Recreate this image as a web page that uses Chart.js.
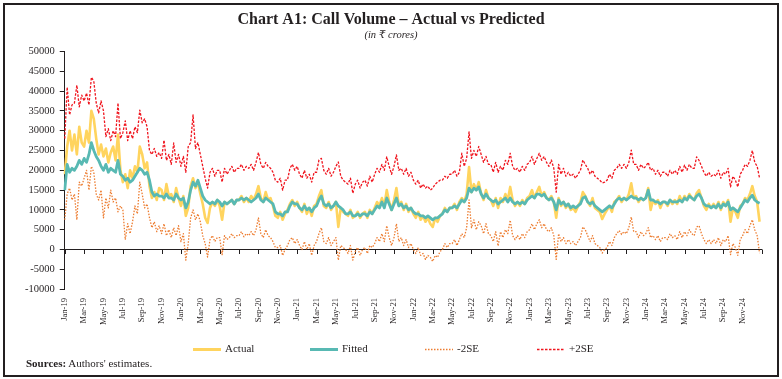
<!DOCTYPE html>
<html><head><meta charset="utf-8">
<script src="https://cdn.jsdelivr.net/npm/chart.js@4.4.1/dist/chart.umd.min.js"></script>
<style>
html,body{margin:0;padding:0;background:#fff;}
#wrap{position:relative;width:782px;height:379px;overflow:hidden;}
canvas{position:absolute;left:0;top:0;}
#frame{position:absolute;left:3px;top:3px;width:772px;height:370px;border:2px solid #231f20;pointer-events:none;}
#src{position:absolute;left:26px;top:357px;font:11px "Liberation Serif","DejaVu Serif",serif;color:#231f20;white-space:nowrap;}
</style></head><body>
<div id="wrap"><canvas id="c" width="782" height="379"></canvas><div id="frame"></div><div id="src"><b>Sources:</b> Authors' estimates.</div></div>
<script>
const months = [
 "Jan-19","Feb-19","Mar-19","Apr-19","May-19","Jun-19","Jul-19","Aug-19","Sep-19","Oct-19","Nov-19","Dec-19",
 "Jan-20","Feb-20","Mar-20","Apr-20","May-20","Jun-20","Jul-20","Aug-20","Sep-20","Oct-20","Nov-20","Dec-20",
 "Jan-21","Feb-21","Mar-21","Apr-21","May-21","Jun-21","Jul-21","Aug-21","Sep-21","Oct-21","Nov-21","Dec-21",
 "Jan-22","Feb-22","Mar-22","Apr-22","May-22","Jun-22","Jul-22","Aug-22","Sep-22","Oct-22","Nov-22","Dec-22",
 "Jan-23","Feb-23","Mar-23","Apr-23","May-23","Jun-23","Jul-23","Aug-23","Sep-23","Oct-23","Nov-23","Dec-23",
 "Jan-24","Feb-24","Mar-24","Apr-24","May-24","Jun-24","Jul-24","Aug-24","Sep-24","Oct-24","Nov-24","Dec-24"
];
const weeks = ["W1","W2","W3","W4"];
const seriesNames = ["Actual","Fitted","-2SE","+2SE"];

const actual = [
 19000,26000,30000,25000, 29000,24000,31000,27000, 26000,30000,27000,35000, 33000,28000,24000,26500, 23500,25500,22000,24500, 26000,22500,29000,20000,
 17000,19000,15500,20000, 18000,21000,19500,26000, 24000,20500,22000,16000, 13000,14500,12500,15500, 15000,12500,16500,13500, 14000,12000,15500,13000,
 11000,13500,8500,10500, 16000,18000,15500,17000, 14000,11500,8000,6700, 10500,12000,11000,12500, 11000,7500,12000,11500, 12000,12500,11500,12500,
 12500,13500,12000,13000, 12000,13500,12500,14000, 16000,13000,12000,14500, 12500,13000,11000,8500, 8000,9500,7500,9000, 10000,11500,12500,11000,
 12000,10500,9500,11500, 9000,10500,8500,11000, 11500,13500,15000,11000, 10500,12000,10000,11000, 12000,5700,10500,9500, 9000,8500,10000,8000,
 8500,9500,8000,9000, 9500,8000,10000,9000, 10500,12000,11000,13000, 11000,15000,12000,10000, 12500,15500,11000,12000, 10000,11500,9500,10500,
 9000,8000,9500,7500, 8500,7000,8000,6500, 5700,8000,7000,8500, 9000,10500,9500,10500, 10500,11500,10000,12000, 13000,12000,14000,20800,
 14500,16500,15000,17000, 14000,12500,15000,13000, 12500,11000,13000,10500, 13000,12000,14000,12500, 15800,12500,11000,12000, 11000,12500,11500,13000,
 13500,15000,13000,14500, 15800,13500,14500,13000, 12500,13500,12000,8000, 13000,11000,12000,10500, 11500,10000,10500,9500, 11000,12000,14500,13500,
 12000,11000,13000,10500, 10000,9500,7700,9000, 10000,11000,9500,12000, 12500,13500,12000,13000, 12500,14000,16700,13000, 13500,12000,13000,12500,
 13000,15500,10000,12500, 11500,12500,10500,12000, 12000,11000,12500,11500, 12500,11500,13500,12000, 13500,12500,14000,13000, 12500,14200,15000,13000,
 11000,10000,11500,10500, 11500,10500,12000,10000, 12000,11000,12500,7000, 10500,9500,8000,11000, 11500,13000,12500,14000, 16000,13500,12000,7000
];
const fitted = [
 15000,21500,19500,20500, 20000,21000,22500,21500, 23000,22000,24000,27000, 25000,23500,22500,21000, 20000,21500,19500,20500, 20000,19500,22500,19000,
 18500,17500,18000,17000, 17500,18500,19500,20500, 20000,19000,19500,17500, 14500,13500,14000,13500, 13500,13000,14000,13000, 13000,12500,14000,13000,
 12500,13000,10500,12000, 15000,17000,16000,17500, 15500,13500,12500,12000, 11500,12000,11500,12500, 12000,11000,12000,11500, 12000,12500,11500,12500,
 12500,13000,12500,13000, 12500,12000,12500,13000, 14000,12500,12000,13000, 12500,12000,11500,9500, 9000,9000,8500,9500, 9500,11000,12000,11500,
 11500,10500,10000,11000, 10000,10500,9500,10500, 11000,12500,13500,11500, 11000,11500,10500,11000, 12000,11000,10500,10000, 9000,9000,9500,8500,
 8500,9000,8500,9000, 9000,8500,9500,9000, 10000,11000,10500,12000, 10500,13000,11500,10000, 11500,13000,11000,11500, 10500,11000,10000,10500,
 9500,9000,9000,8500, 8500,8000,8500,8000, 7500,8000,8000,8500, 9000,10000,9500,10500, 10500,11000,10500,11500, 12500,12000,13000,15500,
 14500,15500,15000,15800, 14000,13000,14000,13000, 12500,12000,12500,11500, 12000,12500,13000,12000, 13000,12000,11500,12000, 11500,12000,11500,12500,
 13000,13500,13000,14000, 14000,13500,14000,13000, 12500,13000,12000,10000, 12500,11500,12000,11000, 11500,10500,11000,10500, 11000,11500,13000,13300,
 12000,11500,12000,11000, 10500,10000,9500,10000, 10500,11000,10500,11500, 12500,13000,12500,13000, 12500,13000,13500,13000, 13000,12500,13000,12500,
 13000,15000,12500,12500, 12000,12000,11500,12000, 12000,11500,12500,12000, 12000,12000,12500,12000, 13000,12500,13500,13000, 12500,13500,14000,13000,
 11500,11000,11000,10500, 11000,10500,11500,10500, 11500,11000,12000,10000, 10500,10000,9500,10500, 11500,12500,12000,13000, 13700,12500,12000,11700
];
const lower = [
 7500,14000,15500,12500, 14000,7500,17000,16000, 18000,20000,15000,21000, 19500,14000,12500,15000, 8000,13000,10500,15000, 12000,13000,9500,11000,
 10000,2500,6500,4000, 7000,11000,9000,17000, 14000,10500,11500,8000, 5500,7000,4500,6000, 4000,6500,3500,5000, 3000,5500,3500,6000,
 2000,4000,-2700,1500, 8000,10000,7500,9000, 7000,3500,1500,-1900, 2500,3500,2000,3000, 3000,-1300,3500,2500, 3000,4000,3000,3500,
 3500,4500,3200,4000, 3500,4500,3500,5000, 8000,4000,3000,5000, 3500,3000,2000,500, 500,1000,-1500,0, 1000,2500,3000,1500,
 2500,1000,0,2000, 0,1500,-1500,1000, 2000,4000,5500,2000, 1500,3000,1000,2000, 3000,-2700,1000,500, 0,-1000,1000,-2700,
 -500,500,-1500,0, 500,-1000,1000,500, 1500,3000,2000,4000, 2000,6000,3000,1000, 3000,6500,2000,3000, 1000,2500,500,1500,
 0,-1000,500,-1500, -1000,-2500,-1500,-2000, -3000,-1500,-2000,-500, 0,1500,500,1500, 1500,2500,1000,2500, 4000,3000,5500,12500,
 5500,7500,5000,7000, 6000,4000,6500,4000, 3500,2000,4500,900, 4500,3000,5000,4000, 7400,3500,2500,3500, 2500,4000,3000,4500,
 5000,6500,5000,6500, 7500,5500,6500,5000, 4500,5500,3500,-2500, 4000,2000,3000,1500, 2500,1500,2000,1000, 2000,3000,5700,5000,
 3500,2000,3500,1500, 1000,500,-900,0, 500,2000,1000,3000, 4000,4800,3800,4500, 4000,5500,8200,4500, 4500,3000,4500,3500,
 4000,5500,3000,3500, 2500,3500,2000,3000, 3000,2500,4000,3000, 3500,2500,4500,3000, 4500,3500,5000,4000, 3500,5700,6000,4000,
 2500,1500,2500,1500, 2500,1500,3000,1000, 2500,2000,3500,-1300, 1500,500,-1500,2500, 3500,5000,4000,6000, 7500,5000,3500,-900
];
const upper = [
 28000,41000,34000,36500, 37000,41500,36000,39000, 37500,39500,36500,43500, 42500,37000,34500,37500, 35000,28500,30500,27500, 30000,28500,37000,28000,
 29500,32500,27500,30000, 28000,31000,29500,35200, 32000,33000,31000,25000, 24000,25500,23500,24500, 23000,27600,22500,24000, 21500,26900,22000,24000,
 21000,23500,19500,26000, 27000,34000,25500,27000, 24000,21000,18000,15500, 19500,20500,18500,20000, 20000,17000,20500,19000, 20000,21000,19500,20500,
 20500,21500,20000,21000, 20500,21500,20000,22000, 24500,21500,20500,22000, 21000,20500,19500,17500, 17000,18000,15000,17500, 17500,20500,21500,20000,
 21000,19000,18000,20000, 18000,19000,17000,19500, 19500,22600,23000,20000, 19000,20500,18500,19500, 21000,22100,18500,17500, 17000,16500,18000,14200,
 16500,17500,15500,17000, 17500,16000,18500,17000, 19000,20500,19500,21500, 20000,23400,21000,19000, 21000,23900,20000,20500, 19000,20500,18500,19500,
 17500,16500,17500,15500, 16500,15500,16000,15000, 15500,16500,17000,17500, 17500,18500,18000,19000, 19000,20000,18500,19500, 24300,21000,23000,29700,
 23000,25000,23500,26000, 24000,22000,23500,21500, 21500,19500,22000,19500, 21000,20000,22500,21500, 24300,21000,20000,20500, 19500,21000,20000,21500,
 22000,23500,21500,23000, 24300,22500,23500,22000, 21000,22600,20500,14500, 21500,19000,20500,18500, 19500,18500,19000,18000, 19000,20000,22600,21500,
 20500,19000,20000,18500, 18000,17500,16800,17000, 17500,19000,18000,20000, 20500,21500,20500,21500, 20500,22000,25100,21500, 21500,20000,21500,20500,
 21000,22000,20000,20500, 19000,20000,18500,19500, 19500,18500,20000,19000, 20000,19000,21000,19500, 21300,20000,21500,20500, 20500,23400,22500,21000,
 19500,18500,19500,18500, 19000,18500,20000,18000, 19500,19000,20500,15800, 18500,17500,15800,19000, 20000,21500,21000,22500, 25000,22000,21000,18000
];

const categories = months.flatMap(m => weeks.map(w => m + " " + w)).concat([""]);
const tickStep = weeks.length * 2;
const FONT = '"Liberation Serif", "DejaVu Serif", serif';
const INK = '#231f20';

const zeroTicks = {
  id: 'zeroTicks',
  beforeDatasetsDraw(chart) {
    const xs = chart.scales.x, ys = chart.scales.y, ctx = chart.ctx;
    const y0 = Math.round(ys.getPixelForValue(0)) + 0.5;
    ctx.save();
    ctx.strokeStyle = INK; ctx.lineWidth = 1;
    ctx.beginPath();
    xs.ticks.forEach(t => {
      const px = Math.round(xs.getPixelForValue(t.value)) + 0.5;
      ctx.moveTo(px, y0); ctx.lineTo(px, y0 + 4.5);
    });
    ctx.stroke();
    ctx.restore();
  }
};

const legendStart = [193, 310, 425, 537];
const customLegend = {
  id: 'customLegend',
  afterDraw(chart) {
    const ctx = chart.ctx, y = 349.5;
    chart.data.datasets.forEach((ds, i) => {
      const x = legendStart[i];
      ctx.save();
      ctx.strokeStyle = ds.borderColor;
      ctx.lineWidth = ds.borderWidth > 2 ? 3 : 1.3;
      ctx.setLineDash(ds.borderDash || []);
      ctx.beginPath(); ctx.moveTo(x, y); ctx.lineTo(x + 28, y); ctx.stroke();
      ctx.setLineDash([]);
      ctx.fillStyle = INK;
      ctx.font = '11px ' + FONT;
      ctx.textBaseline = 'middle';
      ctx.fillText(ds.label, x + 32, y);
      ctx.restore();
    });
  }
};

new Chart(document.getElementById('c'), {
  type: 'line',
  data: {
    labels: categories,
    datasets: [
      { label: seriesNames[0], data: actual, borderColor: '#FFD45E', borderWidth: 2.6, order: 3 },
      { label: seriesNames[1], data: fitted, borderColor: '#58B9B3', borderWidth: 2.8, order: 2 },
      { label: seriesNames[2], data: lower, borderColor: '#ED7D31', borderWidth: 1.3, borderDash: [1.5, 1.5], order: 1 },
      { label: seriesNames[3], data: upper, borderColor: '#F0151E', borderWidth: 1.3, borderDash: [2.5, 1.5], order: 0 }
    ]
  },
  options: {
    responsive: false,
    animation: false,
    devicePixelRatio: 1,
    elements: { point: { radius: 0, hoverRadius: 0 }, line: { tension: 0, borderJoinStyle: 'round' } },
    layout: { padding: { left: 20, right: 20, top: 0, bottom: 45 } },
    plugins: {
      legend: { display: false },
      tooltip: { enabled: false },
      title: { display: true, text: 'Chart A1: Call Volume – Actual vs Predicted', color: INK,
               font: { family: FONT, size: 16, weight: 'bold' }, padding: { top: 10, bottom: 0 } },
      subtitle: { display: true, text: '(in ₹ crores)', color: INK,
               font: { family: FONT, size: 10.5, style: 'italic' }, padding: { top: 0, bottom: 9.7 } }
    },
    scales: {
      x: {
        type: 'category', offset: false,
        border: { display: false },
        grid: { display: false, drawTicks: false },
        afterBuildTicks(axis) { axis.ticks = axis.ticks.filter(t => t.value % tickStep === 0); },
        ticks: {
          autoSkip: false, minRotation: 90, maxRotation: 90, padding: 9, color: INK,
          font: { family: FONT, size: 8.5 },
          callback(v) { return this.getLabelForValue(v).split(' ')[0]; }
        }
      },
      y: {
        min: -10000, max: 50000,
        border: { display: true, color: INK, width: 1 },
        grid: { drawOnChartArea: true, drawTicks: true, tickLength: 5, tickColor: INK,
                color: c => (c.tick && c.tick.value === 0) ? INK : 'rgba(0,0,0,0)' },
        ticks: { stepSize: 5000, padding: 5, color: INK, font: { family: FONT, size: 10.5 },
                 callback: v => String(v) }
      }
    }
  },
  plugins: [zeroTicks, customLegend]
});
</script>
</body></html>
